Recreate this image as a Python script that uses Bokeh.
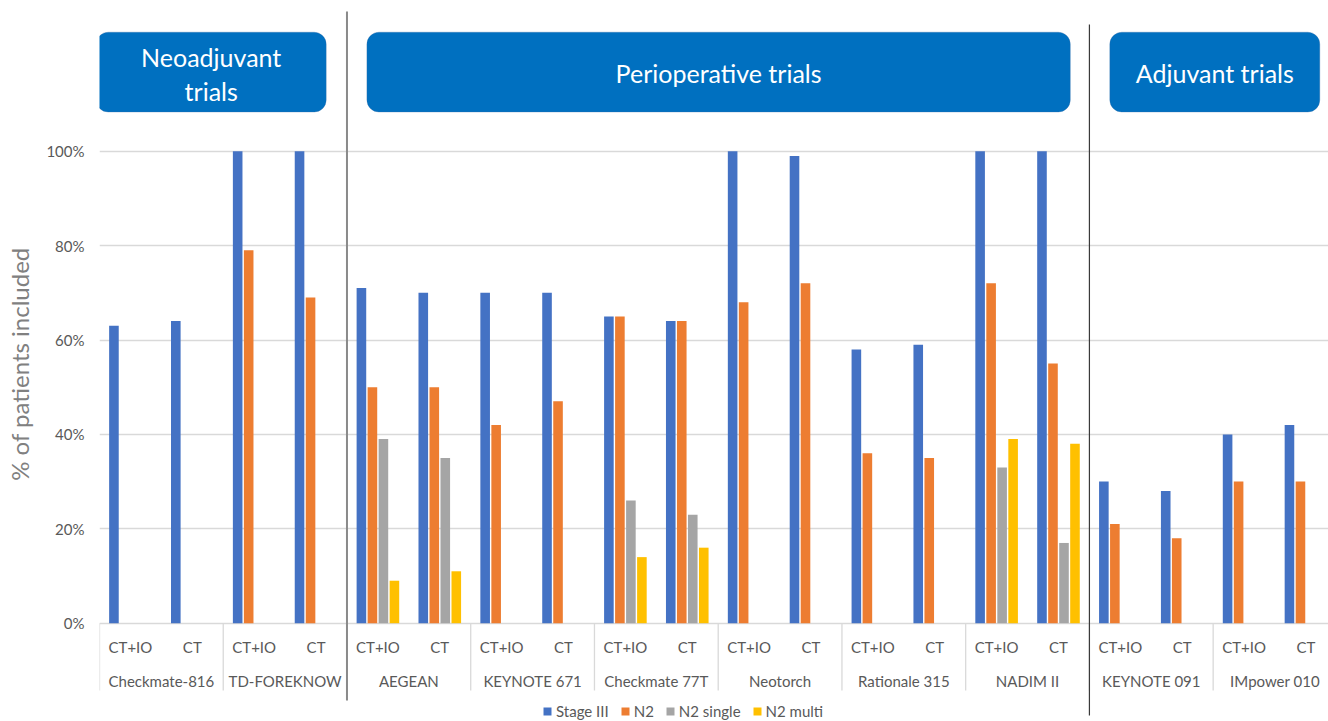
import math
from bokeh.plotting import figure
from bokeh.models import Range1d, FixedTicker, PrintfTickFormatter, BoxAnnotation
from bokeh.core.properties import value
from bokeh.embed import file_html
from bokeh.resources import INLINE

NaN = float("nan")

# ---------------- data ----------------
trials = ["Checkmate-816", "TD-FOREKNOW", "AEGEAN", "KEYNOTE 671", "Checkmate 77T",
          "Neotorch", "Rationale 315", "NADIM II", "KEYNOTE 091", "IMpower 010"]
arms = ["CT+IO", "CT"]
series = ["Stage III", "N2", "N2 single", "N2 multi"]
stage_iii = [63, 64, 100, 100, 71, 70, 70, 70, 65, 64, 100, 99, 58, 59, 100, 100, 30, 28, 40, 42]
n2 = [NaN, NaN, 79, 69, 50, 50, 42, 47, 65, 64, 68, 72, 36, 35, 72, 55, 21, 18, 30, 30]
n2_single = [NaN, NaN, NaN, NaN, 39, 35, NaN, NaN, 26, 23, NaN, NaN, NaN, NaN, 33, 17, NaN, NaN, NaN, NaN]
n2_multi = [NaN, NaN, NaN, NaN, 9, 11, NaN, NaN, 14, 16, NaN, NaN, NaN, NaN, 39, 38, NaN, NaN, NaN, NaN]
y_ticks = [0, 20, 40, 60, 80, 100]
section_lines = [["Neoadjuvant", "trials"], ["Perioperative trials"], ["Adjuvant trials"]]
section_dividers = [4, 16]  # arm index where a new trial type starts

colors = ["#4472C4", "#ED7D31", "#A5A5A5", "#FFC000"]

# ---------------- layout ----------------
W, H = 1328, 721
LEFT = 99
ARM_PX = 61.87
PX_PER_PCT = 4.72
ZERO_Y = 622.7

def px2x(px):
    return (px - LEFT) / ARM_PX

def px2y(py):
    return (ZERO_Y - py) / PX_PER_PCT

PITCH = 11.0 / ARM_PX
BAR_W = 9.6 / ARM_PX
FONT = value("Lato")
TXT = "#595959"

p = figure(width=W, height=H,
           x_range=Range1d(0, px2x(W)), y_range=Range1d(px2y(H), px2y(0)),
           output_backend="svg", toolbar_location=None, x_axis_location=None,
           min_border_left=LEFT, min_border_right=0, min_border_top=0, min_border_bottom=0)
p.outline_line_color = None
p.background_fill_color = "white"
p.border_fill_color = "white"
p.xgrid.visible = False
p.ygrid.ticker = FixedTicker(ticks=y_ticks)
p.ygrid.grid_line_color = "#d9d9d9"
p.ygrid.grid_line_width = 1.3

ax = p.yaxis[0]
ax.ticker = FixedTicker(ticks=y_ticks)
ax.formatter = PrintfTickFormatter(format="%d%%")
ax.axis_line_color = None
ax.major_tick_line_color = None
ax.minor_tick_line_color = None
ax.major_tick_out = 0
ax.major_tick_in = 0
ax.major_label_standoff = 15
ax.major_label_text_font = "Lato"
ax.major_label_text_font_size = "15px"
ax.major_label_text_color = TXT
ax.axis_label = "% of  patients included"
ax.axis_label_text_font = "Lato"
ax.axis_label_text_font_style = "normal"
ax.axis_label_text_font_size = "24px"
ax.axis_label_text_color = "#808080"
ax.axis_label_standoff = 9

# bars
all_series = [stage_iii, n2, n2_single, n2_multi]
for k, (name, vals, col) in enumerate(zip(series, all_series, colors)):
    xs, tops = [], []
    for i, v in enumerate(vals):
        if not math.isnan(v):
            xs.append(i + 0.5 + (k - 1.5) * PITCH)
            tops.append(v)
    p.vbar(x=xs, top=tops, bottom=0, width=BAR_W, fill_color=col, line_color=None,
           legend_label=name)

# category labels below the axis
n_arms = len(trials) * len(arms)
arm_x = [i + 0.5 for i in range(n_arms)]
arm_lbl = [arms[i % len(arms)] for i in range(n_arms)]
p.text(x=arm_x, y=[px2y(646)] * n_arms, text=arm_lbl, text_font=FONT,
       text_font_size="15px", text_color=TXT, text_align="center", text_baseline="middle")
trial_x = [len(arms) * j + len(arms) / 2 for j in range(len(trials))]
p.text(x=trial_x, y=[px2y(680)] * len(trials), text=trials, text_font=FONT,
       text_font_size="15px", text_color=TXT, text_align="center", text_baseline="middle")
sep_x = [len(arms) * j for j in range(len(trials) + 1)]
p.segment(x0=sep_x, y0=[0] * len(sep_x), x1=sep_x, y1=[px2y(690)] * len(sep_x),
          line_color="#d9d9d9", line_width=1.3)

# section dividers
p.segment(x0=[section_dividers[0]], y0=[px2y(11)], x1=[section_dividers[0]], y1=[px2y(700)],
          line_color="#8a8a8a", line_width=2)
p.segment(x0=[section_dividers[1]], y0=[px2y(24)], x1=[section_dividers[1]], y1=[px2y(715)],
          line_color="#3a3a3a", line_width=1.2)

# section header boxes
box_px = [(95.7, 325.7), (366.4, 1069.8), (1109.3, 1319.3)]
for (l, r) in box_px:
    p.add_layout(BoxAnnotation(left=px2x(l), right=px2x(r), top=px2y(31.7), bottom=px2y(111.5),
                               fill_color="#0070C0", fill_alpha=1.0, line_color="#3a6ea5",
                               line_width=1, border_radius=12, level="underlay"))
hx, hy, ht = [], [], []
for (l, r), lines in zip(box_px, section_lines):
    cx = px2x((l + r) / 2)
    if len(lines) == 2:
        mids = [56, 90]
    else:
        mids = [72]
    for t, m in zip(lines, mids):
        hx.append(cx)
        hy.append(px2y(m))
        ht.append(t)
tr = p.text(x=hx, y=hy, text=ht, text_font=FONT, text_font_size="25px", text_color="white",
            text_align="center", text_baseline="middle")
tr.level = "overlay"

# legend
lg = p.legend[0]
lg.orientation = "horizontal"
lg.location = (443, 1)
lg.padding = 0
lg.margin = 0
lg.spacing = 11
lg.label_standoff = 4
lg.glyph_width = 10
lg.glyph_height = 10
lg.label_text_font = "Lato"
lg.label_text_font_size = "15px"
lg.label_text_color = TXT
lg.border_line_color = None
lg.background_fill_alpha = 0

open("out.html", "w").write(file_html(p, INLINE))
